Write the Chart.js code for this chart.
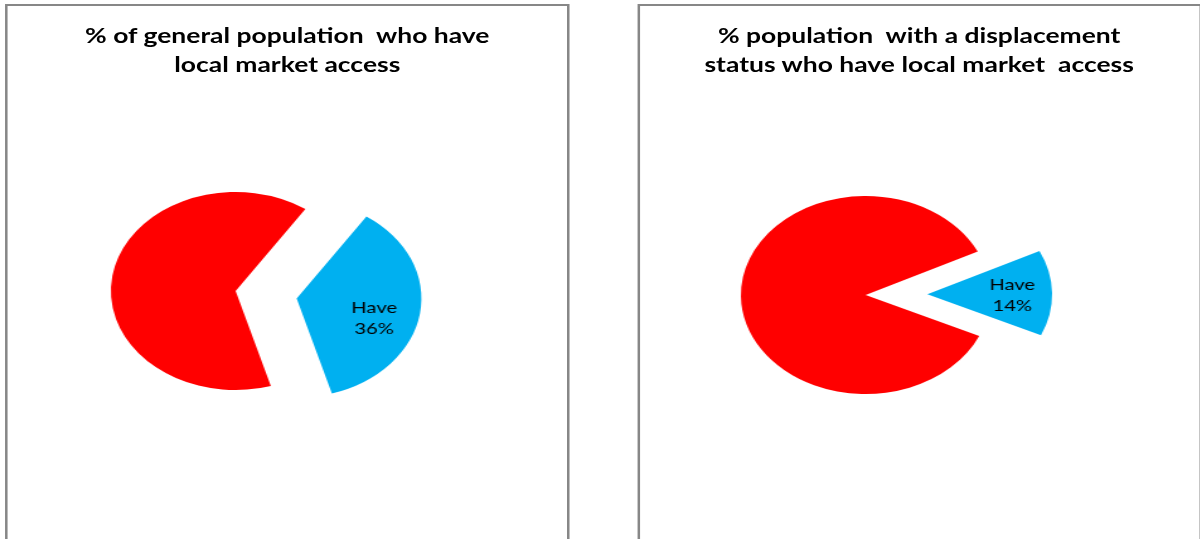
<!DOCTYPE html>
<html>
<head>
<meta charset="utf-8">
<script src="https://cdn.jsdelivr.net/npm/chart.js@4.4.1/dist/chart.umd.min.js"></script>
<style>
  html, body { margin: 0; padding: 0; background: #fff; overflow: hidden; }
  body { width: 1200px; height: 539px; position: relative; }
  /* the source picture is an old chart stretched sideways, so the whole stage is too */
  #stage { position: absolute; left: 0; top: 0; width: 953px; height: 539px; transform: scaleX(1.26); transform-origin: 0 0; }
  .panel { position: absolute; top: 4px; width: 448px; height: 600px; border: 2px solid #878787; box-sizing: border-box; background: #fff; }
  .title { position: absolute; left: 0; right: 0; top: 14px; text-align: center; font: bold 21px Lato; line-height: 29.3px; color: #000; white-space: pre; }
  canvas { position: absolute; }
</style>
</head>
<body>
<div id="stage">
  <div class="panel" style="left:4px">
    <div class="title" id="titleGeneral"></div>
  </div>
  <div class="panel" style="left:505.5px">
    <div class="title" id="titleDisplaced"></div>
  </div>
  <canvas id="pieGeneral" width="360" height="320" style="left:6.5px; top:130.5px"></canvas>
  <canvas id="pieDisplaced" width="360" height="320" style="left:506.5px; top:134.5px"></canvas>
</div>

<script>
// data
const sliceLabels = ['Have', 'Do not have'];
const sliceColors = ['#00B0F0', '#FF0000'];
const generalValues = [36, 64];
const displacedValues = [14, 86];
const titleGeneral = ['% of general population  who have', 'local market access'];
const titleDisplaced = ['% population  with a displacement', 'status who have local market  access'];

document.getElementById('titleGeneral').textContent = titleGeneral.join('\n');
document.getElementById('titleDisplaced').textContent = titleDisplaced.join('\n');

// pulls one slice out of the pie (without chart.js growing its radius)
// and writes its label inside it
const explodePlugin = {
  id: 'explode',
  beforeDatasetsDraw(chart, args, opts) {
    const ctx = chart.ctx;
    chart.getDatasetMeta(0).data.forEach((arc, i) => {
      ctx.save();
      if (i === opts.index) {
        const mid = (arc.startAngle + arc.endAngle) / 2;
        ctx.translate(Math.cos(mid) * opts.distance, Math.sin(mid) * opts.distance);
      }
      arc.draw(ctx);
      ctx.restore();
    });
    return false;
  },
  afterDraw(chart, args, opts) {
    const ctx = chart.ctx;
    const arc = chart.getDatasetMeta(0).data[opts.index];
    const value = chart.data.datasets[0].data[opts.index];
    const mid = (arc.startAngle + arc.endAngle) / 2;
    const d = opts.distance + arc.outerRadius * 0.66;
    const x = arc.x + Math.cos(mid) * d + opts.labelNudge[0];
    const y = arc.y + Math.sin(mid) * d + opts.labelNudge[1];
    ctx.save();
    ctx.font = '16px Lato';
    ctx.fillStyle = '#000';
    ctx.textAlign = 'center';
    ctx.textBaseline = 'middle';
    ctx.fillText(chart.data.labels[opts.index], x, y - 10.5);
    ctx.fillText(value + '%', x, y + 10.5);
    ctx.restore();
  }
};

function makePie(id, values, rotation, labelNudge) {
  return new Chart(document.getElementById(id), {
    type: 'pie',
    data: {
      labels: sliceLabels,
      datasets: [{ data: values, backgroundColor: sliceColors, borderWidth: 0 }]
    },
    options: {
      responsive: false,
      animation: false,
      events: [],
      rotation: rotation,
      radius: 99,
      layout: { padding: 0 },
      plugins: {
        legend: { display: false },
        tooltip: { enabled: false },
        explode: { index: 0, distance: 49, labelNudge: labelNudge }
      }
    },
    plugins: [explodePlugin]
  });
}

makePie('pieGeneral', generalValues, 34, [-3, 10]);
makePie('pieDisplaced', displacedValues, 64, [2, 2]);
</script>
</body>
</html>
